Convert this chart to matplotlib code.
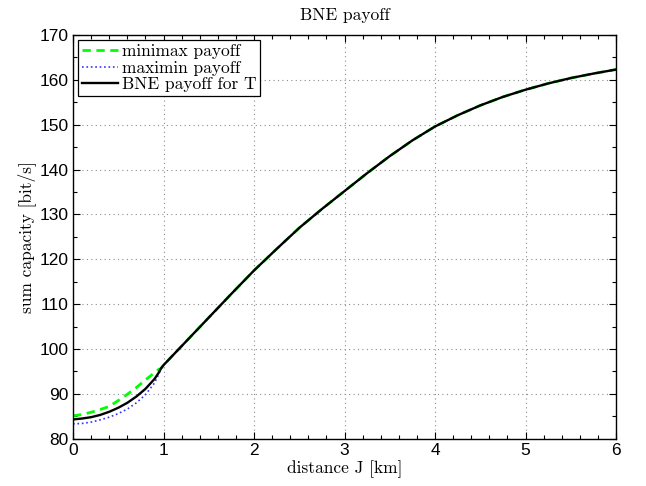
import numpy as np
import matplotlib
matplotlib.use("Agg")
import matplotlib.pyplot as plt
from matplotlib.ticker import MultipleLocator

# distance J [km], region where the three payoffs differ
x_low = [0.0, 0.1, 0.2, 0.3, 0.4, 0.5, 0.6, 0.7, 0.8, 0.9, 0.95, 0.97]
minimax_low = [85.1, 85.4, 85.9, 86.5, 87.2, 88.5, 89.9, 91.4, 93.1, 94.7, 95.5, 95.6]
maximin_low = [83.3, 83.4, 83.7, 84.2, 84.8, 85.6, 86.6, 88.0, 89.8, 92.4, 94.5, 95.6]
bne_low = [84.3, 84.5, 84.8, 85.3, 86.0, 86.9, 88.0, 89.4, 91.1, 93.3, 94.8, 95.6]

# common part (all three coincide)
x_high = [1.0, 1.25, 1.5, 1.75, 2.0, 2.25, 2.5, 2.75, 3.0, 3.25, 3.5, 3.75,
          4.0, 4.25, 4.5, 4.75, 5.0, 5.25, 5.5, 5.75, 6.0]
payoff_high = [96.4, 101.7, 107.0, 112.3, 117.5, 122.3, 127.0, 131.2, 135.2, 139.2,
               143.0, 146.5, 149.6, 152.1, 154.3, 156.2, 157.8, 159.2, 160.4, 161.4, 162.3]

labels = ["minimax payoff", "maximin payoff", "BNE payoff for T"]

x = np.array(x_low + x_high)
minimax = np.array(minimax_low + payoff_high)
maximin = np.array(maximin_low + payoff_high)
bne = np.array(bne_low + payoff_high)

serif = "cmr10"
sans = "Liberation Sans"
fs = 12.5

fig = plt.figure(figsize=(6.46, 4.86), dpi=100)
ax = fig.add_axes([0.113, 0.0973, 0.8406, 0.8307])

ax.plot(x, minimax, "--", color=(0, 1, 0), lw=2.0, dashes=(3, 2), label=labels[0])
ax.plot(x, maximin, ":", color=(0.2, 0.2, 1.0), lw=1.2, label=labels[1])
ax.plot(x, bne, "-", color="k", lw=1.7, label=labels[2])

ax.set_xlim(0, 6)
ax.set_ylim(80, 170)
ax.xaxis.set_major_locator(MultipleLocator(1))
ax.xaxis.set_minor_locator(MultipleLocator(0.2))
ax.yaxis.set_major_locator(MultipleLocator(10))
ax.yaxis.set_minor_locator(MultipleLocator(5))
ax.tick_params(which="both", direction="in", top=True, right=True, width=0.8)
ax.tick_params(which="major", length=5, pad=3, labelsize=fs)
ax.tick_params(which="minor", length=3)
for lab in ax.get_xticklabels() + ax.get_yticklabels():
    lab.set_fontfamily(sans)
for sp in ax.spines.values():
    sp.set_linewidth(1.0)

ax.grid(True, which="major", linestyle=(0, (1, 3)), color="0.55", lw=0.8)

ax.set_title("BNE payoff", fontfamily=serif, fontsize=fs, pad=11)
ax.set_xlabel("distance J [km]", fontfamily=serif, fontsize=fs, labelpad=2)
ax.set_ylabel("sum capacity [bit/s]", fontfamily=serif, fontsize=fs, labelpad=3)

leg = ax.legend(loc="upper left", prop={"family": serif, "size": fs},
                fancybox=False, framealpha=1, edgecolor="k", handlelength=2.1,
                handletextpad=0.2, labelspacing=0.08, borderpad=0.2,
                borderaxespad=0.3)
leg.get_frame().set_linewidth(0.9)

fig.savefig("out.png", dpi=100)
